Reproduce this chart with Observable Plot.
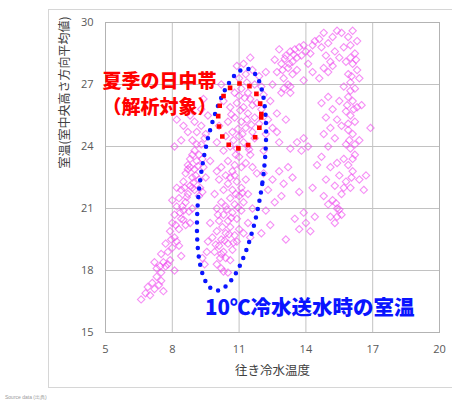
<!DOCTYPE html>
<html><head><meta charset="utf-8">
<script src="https://cdn.jsdelivr.net/npm/d3@7"></script>
<script src="https://cdn.jsdelivr.net/npm/@observablehq/plot@0.6"></script>
<style>
body{margin:0;background:#fff;width:452px;height:403px;overflow:hidden;position:relative;font-family:"Noto Sans CJK JP",sans-serif}
#chart{position:absolute;left:0;top:0}
#box{position:absolute;left:48px;top:9px;width:406px;height:379px;border:1px solid #d6d6d6;box-sizing:border-box;pointer-events:none}
#src{position:absolute;left:5px;top:394px;font-size:5px;color:#9a9a9a;font-family:"Liberation Sans",sans-serif}
</style></head><body>
<div id="chart"></div><div id="box"></div><div id="src">Source data (出典)</div>
<script>
// axes
const xDomain = [5, 20];
const yDomain = [15, 30];
const xTicks = [5, 8, 11, 14, 17, 20];
const yTicks = [15, 18, 21, 24, 27, 30];
const xLabel = "往き冷水温度";
const yLabel = "室温(室中央高さ方向平均値)";

// scatter clusters [往き冷水温度, 室温]
const bandLow = [[6.6,16.6],[6.8,16.9],[6.9,17.2],[7.0,16.8],[7.1,17.4],[7.2,17.1],[7.3,17.7],[7.4,17.3],[7.3,18.1],[7.5,17.9],[7.6,18.4],[7.5,18.8],[7.7,18.2],[7.8,18.9],[7.9,18.5],[7.7,19.3],[8.0,19.1],[8.1,19.6],[7.9,19.9],[8.2,19.4],[8.0,20.3],[8.3,20.0],[8.1,20.7],[8.4,20.5],[8.2,21.1],[8.5,20.9],[8.3,21.5],[8.6,21.3],[8.4,21.9],[8.7,21.7],[8.5,22.3],[8.8,22.1],[8.6,22.7],[8.9,22.5],[8.7,23.1],[9.0,22.9],[8.8,23.4],[9.1,23.3],[9.0,23.8],[9.2,23.6],[9.3,24.1],[8.9,24.3],[9.1,24.7],[9.3,25.0],[8.9,22.0],[9.2,22.4],[9.4,23.0],[8.6,20.2],[8.9,21.0],[9.2,21.6],[7.6,17.0],[8.1,18.0],[8.4,18.7],[7.2,18.4],[8.8,20.3],[7.5,17.5],[8.0,21.4],[8.2,22.0],[9.0,21.9],[8.7,22.9]];
const bandDense = [[8.45,21.1],[8.65,21.55],[8.75,20.85],[8.55,22.0],[8.95,22.25],[9.05,22.6],[9.15,23.05],[8.8,23.0],[9.35,23.4],[9.25,22.0],[8.35,20.8],[8.5,20.45],[8.15,20.2],[7.95,19.5],[8.3,19.2],[7.8,18.3],[7.45,18.2],[8.9,23.6],[9.1,24.1],[9.45,24.4],[9.35,21.8],[9.5,22.5]];
const ellipseLow = [[10.0,18.3],[10.2,18.1],[10.4,18.6],[9.9,18.9],[10.1,19.2],[10.3,18.9],[10.5,19.3],[10.7,19.0],[9.8,19.6],[10.0,19.9],[10.2,19.5],[10.4,19.8],[10.6,20.1],[10.8,19.7],[11.0,20.0],[10.1,20.4],[10.3,20.7],[10.5,20.4],[10.7,20.8],[10.9,20.5],[11.1,20.9],[10.0,21.0],[10.2,21.3],[10.4,21.1],[10.6,21.5],[10.8,21.2],[11.0,21.6],[11.2,21.3],[9.9,21.7],[10.3,21.9],[10.5,22.2],[10.7,21.9],[10.9,22.3],[11.1,22.0],[11.3,22.4],[10.1,22.4],[10.6,18.5],[10.9,19.4],[11.2,19.8],[9.7,20.3],[10.2,18.8],[10.5,17.9],[10.0,22.8],[10.8,22.6],[11.4,21.7],[10.4,22.6],[11.4,20.3],[11.6,21.0],[11.5,19.6]];
const ellipseLowDense = [[10.15,18.6],[10.35,19.45],[10.55,19.75],[10.25,20.1],[10.45,20.95],[10.65,20.55],[10.85,21.7],[10.05,20.7],[10.75,19.35],[9.95,19.25],[9.45,18.3],[9.55,18.9],[9.6,19.4],[9.35,18.6],[10.3,17.95],[10.95,21.05],[11.15,21.75],[10.6,22.5]];
const ellipseHigh = [[10.2,23.0],[10.5,23.3],[10.8,23.1],[11.0,23.5],[11.3,23.2],[11.5,23.6],[10.3,23.8],[10.6,24.0],[10.9,23.9],[11.2,24.2],[11.4,24.0],[11.7,24.4],[10.4,24.5],[10.7,24.7],[11.0,24.5],[11.3,24.9],[11.6,24.7],[11.9,25.1],[10.5,25.2],[10.8,25.4],[11.1,25.2],[11.4,25.6],[11.7,25.4],[12.0,25.8],[10.6,25.9],[10.9,26.1],[11.2,25.9],[11.5,26.3],[11.8,26.1],[12.1,26.5],[10.8,26.6],[11.1,26.8],[11.4,26.6],[11.7,27.0],[12.0,26.9],[11.0,27.3],[11.3,27.5],[11.6,27.7],[11.9,27.4],[11.2,28.0],[10.9,27.9],[10.3,26.2],[10.1,25.0],[10.0,24.2],[12.2,24.6],[12.3,25.3],[10.7,22.8],[11.6,23.0],[12.1,23.8],[11.8,22.7],[10.2,27.0],[11.5,28.3],[12.2,27.6]];
const ellipseHighDense = [[10.75,24.3],[10.95,24.85],[11.15,24.6],[11.35,25.3],[11.05,25.75],[11.25,26.35],[11.55,25.05],[10.65,25.55],[10.85,23.6],[11.45,23.85],[11.1,23.0],[11.6,26.0],[11.35,27.1],[11.0,26.45]];
const leftTop = [[8.2,25.3],[8.5,25.0],[8.8,25.5],[8.4,24.3],[8.7,24.7],[9.0,25.2],[9.3,25.8],[8.1,24.0],[9.5,24.6],[9.6,25.5],[9.4,26.3],[9.7,23.3]];
const rightOfRed = [[12.4,26.2],[12.7,25.6],[12.9,26.6],[12.5,24.9],[13.1,25.3],[12.8,24.2],[13.3,26.9]];
const upperMid = [[12.7,27.6],[12.9,28.0],[13.0,27.3],[13.1,28.4],[13.2,27.8],[13.3,28.6],[13.4,28.1],[13.5,28.7],[13.6,28.3],[13.7,28.8],[13.8,28.4],[13.9,28.9],[14.0,28.6],[14.2,28.5],[14.3,28.9],[13.2,27.0],[13.4,27.5],[13.0,26.8],[12.6,28.2],[12.8,28.7],[13.6,27.7],[14.1,28.0],[13.3,26.6],[12.5,27.0],[14.4,29.1],[14.6,29.2],[14.8,29.5],[14.7,28.8],[15.0,29.0],[15.2,29.3],[14.9,28.4],[15.1,28.1],[15.3,28.6],[15.0,27.6],[15.2,27.9],[14.6,27.3],[14.8,27.8],[15.4,29.6],[13.9,27.2],[14.3,27.6],[13.05,28.25],[13.25,28.0],[13.45,28.45],[12.95,27.7]];
const rightBand = [[15.6,29.5],[15.9,29.3],[16.1,29.6],[16.3,29.1],[15.7,28.8],[16.0,28.9],[16.2,28.5],[15.5,28.3],[15.8,28.1],[16.1,28.0],[16.3,27.7],[15.9,27.5],[16.0,27.1],[16.2,26.8],[15.7,26.9],[15.9,26.4],[16.1,26.2],[16.3,25.9],[15.8,25.7],[16.0,25.5],[16.2,25.2],[15.6,25.0],[15.9,24.8],[16.1,24.6],[16.4,24.3],[15.8,24.1],[16.0,23.9],[16.2,23.6],[15.7,23.4],[15.9,23.1],[16.1,22.8],[15.5,22.6],[15.8,22.3],[16.0,22.0],[15.6,21.7],[15.3,22.1],[15.2,21.4],[15.4,21.0],[15.6,20.7],[15.1,20.6],[15.0,21.2],[15.3,20.3],[14.8,21.6],[14.9,22.4],[15.1,23.0],[14.7,23.5],[15.0,24.0],[14.8,24.6],[15.1,24.9],[14.9,25.4],[15.2,25.8],[14.7,26.1],[15.0,26.4],[15.3,24.4],[15.4,25.3],[15.5,26.2],[15.4,23.2],[16.4,27.3],[16.5,26.0],[16.4,22.4],[16.6,21.9],[16.7,22.6],[16.9,24.9],[16.0,28.3],[15.9,25.1],[16.1,23.4],[15.7,22.0],[15.4,20.6],[16.2,24.1],[16.0,26.7],[16.05,27.4],[16.15,25.8],[15.95,24.3],[16.05,22.5],[15.85,26.0],[16.25,28.2],[15.35,21.25],[15.5,20.95]];
const middle = [[12.1,22.7],[12.3,21.9],[12.5,22.4],[12.2,20.9],[12.6,21.3],[12.8,22.8],[13.0,22.2],[12.9,21.6],[13.2,23.0],[13.4,22.5],[13.3,23.9],[13.6,24.2],[13.8,23.8],[14.1,24.0],[13.9,24.4],[13.5,20.5],[13.7,20.0],[14.0,20.3],[14.2,19.9],[13.9,20.8],[14.4,20.6],[12.4,20.2],[12.0,19.8],[13.1,19.5],[14.3,22.0],[14.5,23.1],[13.7,21.8],[12.7,24.7]];

// annotations
const redNote = "夏季の日中帯\n（解析対象）";
const blueNote = "10℃冷水送水時の室温";
// annotation ellipses: centre in data units, semi-axes in px, tilt in degrees
const blueEllipse = {cx: 10.66, cy: 22.4, a: 112, b: 31, tilt: 8.2};
const redEllipse = {cx: 11.03, cy: 25.48, a: 32.5, b: 21.5, tilt: 4};

const W = 452, H = 403, ML = 105, MR = 13, MT = 22, MB = 71;
const kx = (W - ML - MR) / (xDomain[1] - xDomain[0]);
const ky = (H - MT - MB) / (yDomain[1] - yDomain[0]);
function ellipsePts(e) {
  const pts = [], th = e.tilt * Math.PI / 180;
  for (let i = 0; i <= 240; i++) {
    const t = i / 240 * 2 * Math.PI;
    const dx = e.b * Math.cos(t), dy = e.a * Math.sin(t);
    const rx = dx * Math.cos(th) - dy * Math.sin(th);
    const ry = dx * Math.sin(th) + dy * Math.cos(th);
    pts.push({x: e.cx + rx / kx, y: e.cy - ry / ky});
  }
  return pts;
}
const points = [bandLow, bandDense, ellipseLow, ellipseLowDense, ellipseHigh, ellipseHighDense, leftTop, rightOfRed, upperMid, rightBand, middle]
  .flat().map(([x, y]) => ({x, y}));
const cjk = "'Noto Sans CJK JP', sans-serif";

const chart = Plot.plot({
  width: W, height: H, marginLeft: ML, marginRight: MR, marginTop: MT, marginBottom: MB,
  style: {fontFamily: "'Open Sans', sans-serif", background: "transparent"},
  x: {domain: xDomain, ticks: xTicks},
  y: {domain: yDomain, ticks: yTicks},
  marks: [
    Plot.gridX(xTicks, {stroke: "#c2c2c2", strokeOpacity: 1}),
    Plot.gridY(yTicks, {stroke: "#c2c2c2", strokeOpacity: 1}),
    Plot.frame({stroke: "#b3b3b3"}),
    Plot.axisX(xTicks, {tickSize: 0, tickPadding: 13, fontSize: 11, color: "#595959", label: null}),
    Plot.axisY(yTicks, {tickSize: 0, tickPadding: 12, fontSize: 11, color: "#595959", label: null}),
    Plot.dot(points, {x: "x", y: "y", symbol: "diamond2", r: 3.3, stroke: "#ee44ee", strokeOpacity: 0.6, strokeWidth: 1.1}),
    Plot.line(ellipsePts(blueEllipse), {x: "x", y: "y", stroke: "#0a14ff", strokeWidth: 4.5, strokeDasharray: "0 8.5", strokeLinecap: "round"}),
    Plot.line(ellipsePts(redEllipse), {x: "x", y: "y", stroke: "#ff0000", strokeWidth: 4.6, strokeDasharray: "0 10.5", strokeLinecap: "square"}),
    Plot.text([redNote], {x: 4.87, y: 26.59, text: d => d, fill: "#ff0000", fontSize: 19, fontWeight: 900, textAnchor: "start", lineAnchor: "middle", lineHeight: 1.33, fontFamily: cjk}),
    Plot.text([blueNote], {x: 9.47, y: 16.16, text: d => d, fill: "#0a14ff", fontSize: 20.5, fontWeight: 900, textAnchor: "start", lineAnchor: "middle", fontFamily: cjk}),
    Plot.text([xLabel], {text: d => d, frameAnchor: "bottom", dy: 38, lineAnchor: "middle", fontSize: 12.5, fill: "#404040", fontFamily: cjk}),
    Plot.text([yLabel], {text: d => d, frameAnchor: "left", dx: -40, dy: -9, rotate: -90, lineAnchor: "middle", fontSize: 12, fill: "#404040", fontFamily: cjk})
  ]
});
document.getElementById("chart").append(chart);
</script></body></html>
